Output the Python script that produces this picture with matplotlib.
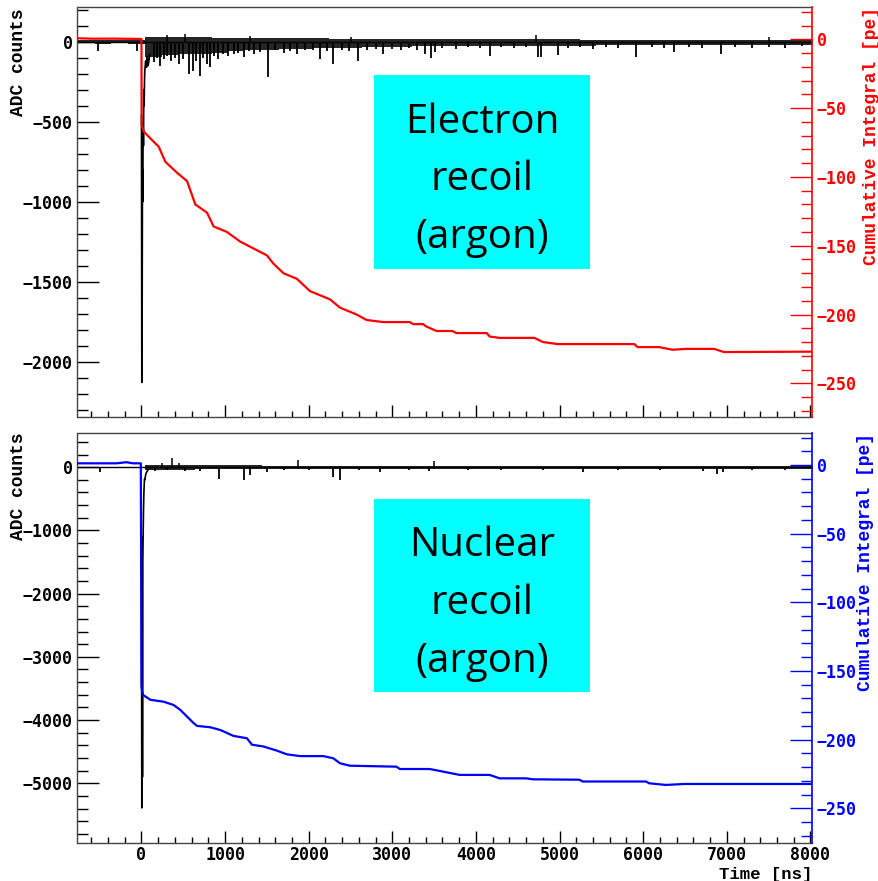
import numpy as np
import matplotlib
matplotlib.use("Agg")
import matplotlib.pyplot as plt
from matplotlib.ticker import MultipleLocator
from matplotlib.patches import Rectangle

# ---------------- data ----------------
# waveform noise band, per 200 ns bin starting at t = -760 (44 bins), ADC counts
er_band_hi = [10, 12, 10, 12,
              32, 30, 30, 28, 26, 25, 24, 22, 22, 20,
              20, 18, 18, 18, 17, 16, 16, 16, 15, 15,
              15, 15, 14, 14, 14, 14, 13, 13, 13, 13,
              13, 12, 12, 12, 12, 12, 12, 12, 12, 12]
er_band_lo = [-10, -12, -10, -12,
              -95, -85, -80, -75, -70, -60, -55, -50, -48, -45,
              -42, -40, -38, -36, -34, -32, -30, -30, -28, -28,
              -27, -26, -26, -25, -25, -24, -24, -23, -23, -22,
              -22, -22, -21, -21, -20, -20, -20, -20, -20, -20]
# main pulse (time ns, ADC)
er_pulse_t = [0, 4, 8, 12, 16, 20, 24, 28, 32, 36, 40, 50, 60, 70, 80, 100]
er_pulse_adc = [-460, -2130, -1750, -800, -1000, -500, -650, -300, -400, -250,
                -180, -120, -160, -90, -150, -80]
# single photo-electron dips and upward excursions (time ns, ADC)
er_dip_t = [-520, -50, 147, 180, 227, 270, 300, 350, 400, 453, 500, 564, 617, 650,
            696, 740, 784, 823, 870, 920, 980, 1040, 1101, 1160, 1230, 1290, 1350,
            1420, 1519, 1600, 1700, 1780, 1858, 1950, 2050, 2135, 2220, 2294, 2400,
            2480, 2592, 2700, 2800, 2891, 3000, 3100, 3200, 3300, 3388, 3468, 3507,
            3600, 3766, 3900, 4050, 4164, 4300, 4450, 4600, 4740, 4780, 4978, 5100,
            5250, 5400, 5550, 5700, 5914, 6100, 6250, 6370, 6550, 6700, 6928, 7100,
            7300, 7500, 7700, 7900]
er_dip_adc = [-56, -56, -129, -100, -150, -110, -90, -120, -100, -139, -110, -201, -181, -120,
              -212, -100, -139, -160, -90, -110, -80, -90, -77, -70, -95, -60, -75,
              -65, -222, -55, -70, -60, -77, -55, -50, -108, -60, -139, -50,
              -60, -118, -55, -45, -77, -45, -50, -40, -55, -76, -104, -66,
              -40, -46, -35, -40, -87, -35, -40, -35, -98, -98, -83, -40,
              -35, -45, -35, -40, -98, -35, -40, -62, -35, -40, -77, -35,
              -40, -35, -40, -30]
er_up_t = [300, 520, 1300, 2500, 4721, 7500]
er_up_adc = [42, 45, 35, 30, 42, 31]
# cumulative integral [pe]
er_cum_t = [-765, -600, -300, 0, 2, 27, 107, 206, 286, 426,
            545, 644, 784, 863, 1022, 1181, 1340, 1500, 1578, 1698,
            1858, 2016, 2255, 2374, 2573, 2693, 2891, 3209, 3250, 3370,
            3400, 3528, 3720, 3766, 4130, 4164, 4283, 4700, 4800, 4978,
            5894, 5933, 6190, 6350, 6510, 6848, 6967, 8025]
er_cum_pe = [0.8, 0.5, 0.5, 0.3, -62, -67, -72, -78, -89, -97,
             -103, -120, -126, -136, -140, -147, -152, -157, -163, -170,
             -174, -183, -189, -195, -200, -204, -205.5, -205.5, -207, -207,
             -208.5, -212, -212, -213.5, -213.5, -216, -217, -217, -220, -221.5,
             -221.5, -223.7, -223.7, -225.6, -225, -225, -227.3, -227]

nr_band_hi = [10, 10, 10, 10,
              35, 35, 32, 30, 30, 28, 28, 26, 25, 25,
              24, 24, 22, 22, 22, 20, 20, 20, 20, 20,
              20, 18, 18, 18, 18, 18, 18, 18, 18, 18,
              18, 18, 18, 18, 18, 18, 18, 18, 18, 18]
nr_band_lo = [-10, -10, -10, -10,
              -40, -40, -38, -36, -35, -34, -33, -32, -30, -30,
              -30, -28, -28, -28, -26, -26, -26, -25, -25, -25,
              -25, -24, -24, -24, -24, -24, -24, -24, -24, -24,
              -24, -24, -24, -24, -24, -24, -24, -24, -24, -24]
nr_pulse_t = [0, 4, 8, 12, 16, 20, 24, 28, 32, 36, 40, 50, 60, 80]
nr_pulse_adc = [-1550, -5390, -1100, -4900, -1500, -1060, -700, -450, -300, -190,
                -200, -120, -80, -40]
nr_dip_t = [-500, 160, 300, 520, 700, 924, 1221, 1300, 1500, 1700, 2000, 2294, 2374,
            2600, 2851, 3200, 3440, 3900, 4300, 4800, 5280, 5700, 6200, 6720, 6880,
            6960, 7300, 7700]
nr_dip_adc = [-75, -60, -50, -55, -60, -179, -206, -127, -74, -50, -45, -153, -206,
              -50, -74, -45, -60, -45, -40, -45, -70, -40, -45, -60, -110,
              -80, -40, -40]
nr_up_t = [250, 366, 450, 1877, 3500]
nr_up_adc = [60, 138, 70, 111, 95]
nr_cum_t = [-765, -300, -180, -100, -8, -4, 0, 8, 20, 107,
            266, 385, 465, 624, 664, 823, 943, 1101, 1261, 1321,
            1459, 1619, 1738, 1897, 2175, 2294, 2374, 2493, 3050, 3090,
            3448, 3607, 3806, 4164, 4283, 4601, 4681, 5237, 5277, 6033,
            6072, 6272, 6490, 8025]
nr_cum_pe = [1.2, 1.2, 2.0, 1.2, 1.2, -71, -161, -165, -167.5, -171,
             -172.4, -174.8, -178.4, -188, -190, -191, -193, -197.3, -199, -203.7,
             -205, -208, -210.7, -212, -212, -213.6, -217.2, -219, -219.7, -221.4,
             -221.4, -223.3, -225.7, -225.7, -228.2, -228.2, -228.9, -229.2, -230.5, -230.5,
             -231.8, -233, -232.3, -232.3]

x_ticks = [0, 1000, 2000, 3000, 4000, 5000, 6000, 7000, 8000]
BAND_START, BAND_STEP = -760, 200

# ---------------- figure ----------------
plt.rcParams["font.family"] = ["DejaVu Sans Mono"]
plt.rcParams["font.weight"] = "bold"
W, H = 879, 881
fig = plt.figure(figsize=(W / 100, H / 100), dpi=100)


def fx(p):
    return p / W


def fy(p):
    return 1 - p / H


XMIN, XMAX = -765, 8025
FRAME = "#444444"
TITLE_FONT = dict(family="Liberation Mono", weight="bold", size=13)


def make_panel(top_px, bot_px, band_hi, band_lo, pulse_t, pulse_v, dip_t, dip_v,
               up_t, up_v, cum_t, cum_pe, color, ylim, y2lim, ymaj, ymin, show_xlabels):
    ax = fig.add_axes([fx(77.5), fy(bot_px), fx(812.5) - fx(77.5), fy(top_px) - fy(bot_px)])
    edges = BAND_START + BAND_STEP * np.arange(len(band_hi) + 1)
    hi = np.append(band_hi, band_hi[-1])
    lo = np.append(band_lo, band_lo[-1])
    ax.fill_between(edges, lo, hi, step="post", color="black", lw=0, alpha=0.85)
    ax.plot(edges, np.zeros_like(edges, dtype=float), color="black", lw=1.0)
    ax.vlines(dip_t, 0, dip_v, color="black", lw=1.3)
    ax.vlines(up_t, 0, up_v, color="black", lw=1.1)
    ax.plot(pulse_t, pulse_v, color="black", lw=1.2)
    ax.set_xlim(XMIN, XMAX)
    ax.set_ylim(*ylim)
    ax.set_xticks(x_ticks)
    ax.xaxis.set_minor_locator(MultipleLocator(200))
    ax.yaxis.set_major_locator(MultipleLocator(ymaj))
    ax.yaxis.set_minor_locator(MultipleLocator(ymin))
    ax.tick_params(axis="y", which="major", direction="in", length=15.5, width=1.0,
                   labelsize=12, pad=3.5, right=False, colors="black")
    ax.tick_params(axis="y", which="minor", direction="in", length=8, width=1.0, right=False)
    ax.tick_params(axis="x", which="major", direction="in", length=8.5, width=1.0,
                   labelsize=12, pad=2, top=False, labelbottom=show_xlabels)
    ax.tick_params(axis="x", which="minor", direction="in", length=4.3, width=1.0, top=False)
    for s in ("top", "bottom", "left"):
        ax.spines[s].set_color(FRAME)
        ax.spines[s].set_linewidth(1.0)
    ax.spines["right"].set_visible(False)

    ax2 = ax.twinx()
    ax2.plot(cum_t, cum_pe, color=color, lw=1.6)
    ax2.set_ylim(*y2lim)
    ax2.yaxis.set_major_locator(MultipleLocator(50))
    ax2.yaxis.set_minor_locator(MultipleLocator(10))
    ax2.tick_params(axis="y", which="major", direction="in", length=15.5, width=1.0,
                    labelsize=12, pad=3, colors=color)
    ax2.tick_params(axis="y", which="minor", direction="in", length=8, width=1.0, colors=color)
    for s in ("top", "bottom", "left"):
        ax2.spines[s].set_visible(False)
    ax2.spines["right"].set_color(color)
    ax2.spines["right"].set_linewidth(1.2)
    return ax, ax2


make_panel(7.3, 417, er_band_hi, er_band_lo, er_pulse_t, er_pulse_adc, er_dip_t, er_dip_adc,
           er_up_t, er_up_adc, er_cum_t, er_cum_pe, "#ff0000",
           (-2346, 215), (-274.5, 23.3), 500, 100, False)
make_panel(432.7, 843.3, nr_band_hi, nr_band_lo, nr_pulse_t, nr_pulse_adc, nr_dip_t, nr_dip_adc,
           nr_up_t, nr_up_adc, nr_cum_t, nr_cum_pe, "#0000ff",
           (-5950, 546), (-275.5, 23.5), 1000, 200, True)

# axis titles
fig.text(fx(19), fy(9), "ADC counts", rotation=90, ha="center", va="top", **TITLE_FONT)
fig.text(fx(19), fy(433), "ADC counts", rotation=90, ha="center", va="top", **TITLE_FONT)
fig.text(fx(872), fy(7), "Cumulative Integral [pe]", rotation=90, ha="center", va="top",
         color="#ff0000", **TITLE_FONT)
fig.text(fx(866), fy(433), "Cumulative Integral [pe]", rotation=90, ha="center", va="top",
         color="#0000ff", **TITLE_FONT)
fig.text(fx(812), fy(881.5), "Time [ns]", ha="right", va="bottom", family="Liberation Mono",
         weight="bold", size=12.5)

# annotation boxes
BOX_FONT = dict(family="Open Sans", weight="normal", size=29, color="black", ha="center",
                va="baseline")
for top_px, lines in ((75, ["Electron", "recoil", "(argon)"]),
                      (498.5, ["Nuclear", "recoil", "(argon)"])):
    fig.add_artist(Rectangle((fx(374), fy(top_px + 193.5)), fx(216), 193.5 / H,
                             transform=fig.transFigure, facecolor="#00ffff",
                             edgecolor="none", zorder=5))
    for k, line in enumerate(lines):
        fig.text(fx(482), fy(top_px + 58 + 57.5 * k), line, zorder=6, **BOX_FONT)

fig.savefig("out.png", dpi=100)
